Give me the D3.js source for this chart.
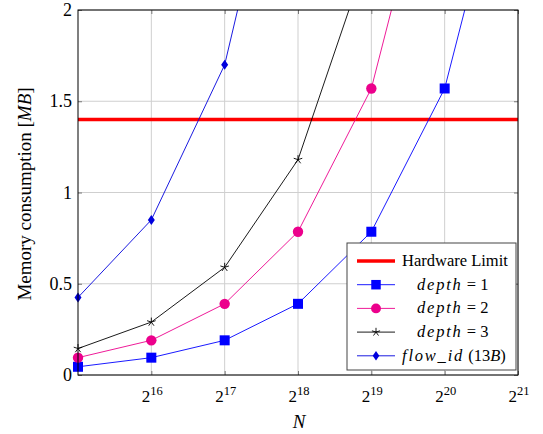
<!DOCTYPE html>
<html><head><meta charset="utf-8">
<script src="https://cdn.jsdelivr.net/npm/d3@7"></script>
<style>body{margin:0;background:#fff;}</style></head>
<body><svg id="c" width="543" height="434" font-family="Liberation Serif"></svg>
<script>
const exponents = [15, 16, 17, 18, 19, 20, 21];
const xTickExps = [16, 17, 18, 19, 20, 21];
const yTicks = [0, 0.5, 1, 1.5, 2];
const hardwareLimit = 1.4;
const depth1 = [0.045, 0.095, 0.19, 0.39, 0.785, 1.57, 3.14];
const depth2 = [0.095, 0.19, 0.39, 0.785, 1.57, 3.14, 6.28];
const depth3 = [0.145, 0.29, 0.59, 1.18, 2.36, 4.72, 9.44];
const flowId = [0.425, 0.85, 1.70, 3.40, 6.80, 13.6, 27.2];

const FONT = "Liberation Serif";
const svg = d3.select("#c");
const m = {l:78, t:10, r:518, b:375};
const x = d3.scaleLog().base(2).domain([2**15, 2**21]).range([m.l, m.r]);
const y = d3.scaleLinear().domain([0, 2]).range([m.b, m.t]);

const g = svg.append("g");
xTickExps.forEach(e => {
  g.append("line").attr("x1", x(2**e)).attr("x2", x(2**e)).attr("y1", m.t).attr("y2", m.b)
   .attr("stroke", "#cfcfcf").attr("stroke-width", 1);
});
yTicks.forEach(v => {
  g.append("line").attr("x1", m.l).attr("x2", m.r).attr("y1", y(v)).attr("y2", y(v))
   .attr("stroke", "#cfcfcf").attr("stroke-width", 1);
});

svg.append("defs").append("clipPath").attr("id", "clip").append("rect")
  .attr("x", m.l).attr("y", m.t).attr("width", m.r - m.l).attr("height", m.b - m.t);

const xAxisB = d3.axisBottom(x).tickValues(xTickExps.map(e => 2**e)).tickSize(-4).tickFormat("");
const xAxisT = d3.axisTop(x).tickValues(xTickExps.map(e => 2**e)).tickSize(-4).tickFormat("");
const yAxisL = d3.axisLeft(y).tickValues(yTicks).tickSize(-4).tickFormat("");
const yAxisR = d3.axisRight(y).tickValues(yTicks).tickSize(-4).tickFormat("");
[[xAxisB, `translate(0,${m.b})`], [xAxisT, `translate(0,${m.t})`], [yAxisL, `translate(${m.l},0)`], [yAxisR, `translate(${m.r},0)`]]
.forEach(([ax, tr]) => {
  const a = svg.append("g").attr("transform", tr).call(ax);
  a.select(".domain").remove();
  a.selectAll(".tick line").attr("stroke", "#777");
});

svg.append("line").attr("x1", m.l).attr("x2", m.r).attr("y1", y(hardwareLimit)).attr("y2", y(hardwareLimit))
  .attr("stroke", "#ff0000").attr("stroke-width", 3.5);

const series = [
  {vals: depth1, color: "#0000ff", marker: "square"},
  {vals: depth2, color: "#ec008c", marker: "circle"},
  {vals: depth3, color: "#000000", marker: "star"},
  {vals: flowId, color: "#0000dd", marker: "diamond"}
];
const line = d3.line().x((d, i) => x(2**exponents[i])).y(d => y(d));

function marker(sel, type, color, cx, cy, s) {
  s = s || 1;
  if (type === "square") sel.append("rect").attr("x", cx - 5*s).attr("y", cy - 5*s).attr("width", 10*s).attr("height", 10*s).attr("fill", color);
  else if (type === "circle") sel.append("circle").attr("cx", cx).attr("cy", cy).attr("r", 5.2*s).attr("fill", color);
  else if (type === "diamond") sel.append("path").attr("d", `M${cx},${cy-5*s}L${cx+3.5*s},${cy}L${cx},${cy+5*s}L${cx-3.5*s},${cy}Z`).attr("fill", color);
  else if (type === "star") {
    const r = 4.5*s; let d = "";
    for (let k = 0; k < 5; k++) { const a = -Math.PI/2 + k*2*Math.PI/5; d += `M${cx},${cy}L${cx + r*Math.cos(a)},${cy + r*Math.sin(a)}`; }
    sel.append("path").attr("d", d).attr("stroke", color).attr("stroke-width", 0.9).attr("fill", "none");
  }
}

series.forEach(sr => {
  svg.append("path").datum(sr.vals).attr("d", line).attr("clip-path", "url(#clip)")
    .attr("fill", "none").attr("stroke", sr.color).attr("stroke-width", 0.9);
  const mg = svg.append("g");
  sr.vals.forEach((v, i) => { if (v <= 2) marker(mg, sr.marker, sr.color, x(2**exponents[i]), y(v)); });
});

svg.append("rect").attr("x", m.l).attr("y", m.t).attr("width", m.r - m.l).attr("height", m.b - m.t)
  .attr("fill", "none").attr("stroke", "#000").attr("stroke-width", 1);

function txt(sel) { return sel.append("text").attr("font-family", FONT).attr("fill", "#000"); }

xTickExps.forEach(e => {
  const t = txt(svg).attr("x", x(2**e) + 1).attr("y", 402).attr("text-anchor", "middle").attr("font-size", 17);
  t.append("tspan").text("2");
  t.append("tspan").attr("dy", -7).attr("font-size", 12.5).text(String(e));
});
yTicks.forEach(v => {
  txt(svg).attr("x", 72).attr("y", y(v) + 6).attr("text-anchor", "end").attr("font-size", 18)
    .text(v === 0 ? "0" : String(v));
});

txt(svg).attr("x", 299).attr("y", 428).attr("text-anchor", "middle").attr("font-size", 19).attr("font-style", "italic").text("N");
const yl = txt(svg).attr("transform", "translate(31,194) rotate(-90)").attr("text-anchor", "middle").attr("font-size", 19);
yl.append("tspan").text("Memory consumption [");
yl.append("tspan").attr("font-style", "italic").text("MB");
yl.append("tspan").text("]");

const lg = svg.append("g");
const lx = 347, ly = 243, lw = 169, lh = 127;
lg.append("rect").attr("x", lx).attr("y", ly).attr("width", lw).attr("height", lh).attr("fill", "#fff").attr("stroke", "#444").attr("stroke-width", 1);
const rows = [
  {color: "#ff0000", marker: null, w: 3.5},
  {color: "#0000ff", marker: "square"},
  {color: "#ec008c", marker: "circle"},
  {color: "#000000", marker: "star"},
  {color: "#0000dd", marker: "diamond"}
];
rows.forEach((r, i) => {
  const cy = ly + 18 + i * 23.7;
  lg.append("line").attr("x1", lx + 10).attr("x2", lx + 48).attr("y1", cy).attr("y2", cy)
    .attr("stroke", r.color).attr("stroke-width", r.w || 0.9);
  if (r.marker) marker(lg, r.marker, r.color, lx + 29, cy, 0.95);
  const t = txt(lg).attr("y", cy + 5).attr("font-size", 16.5);
  if (i === 0) { t.attr("x", lx + 55).text("Hardware Limit"); }
  else if (i < 4) {
    t.attr("x", lx + 70);
    t.append("tspan").attr("font-style", "italic").attr("letter-spacing", 1.8).text("depth");
    t.append("tspan").text(" = " + i);
  } else {
    t.attr("x", lx + 55);
    t.append("tspan").attr("font-style", "italic").attr("letter-spacing", 1.8).text("flow_id");
    t.append("tspan").text(" (13");
    t.append("tspan").attr("font-style", "italic").text("B");
    t.append("tspan").text(")");
  }
});
</script></body></html>
